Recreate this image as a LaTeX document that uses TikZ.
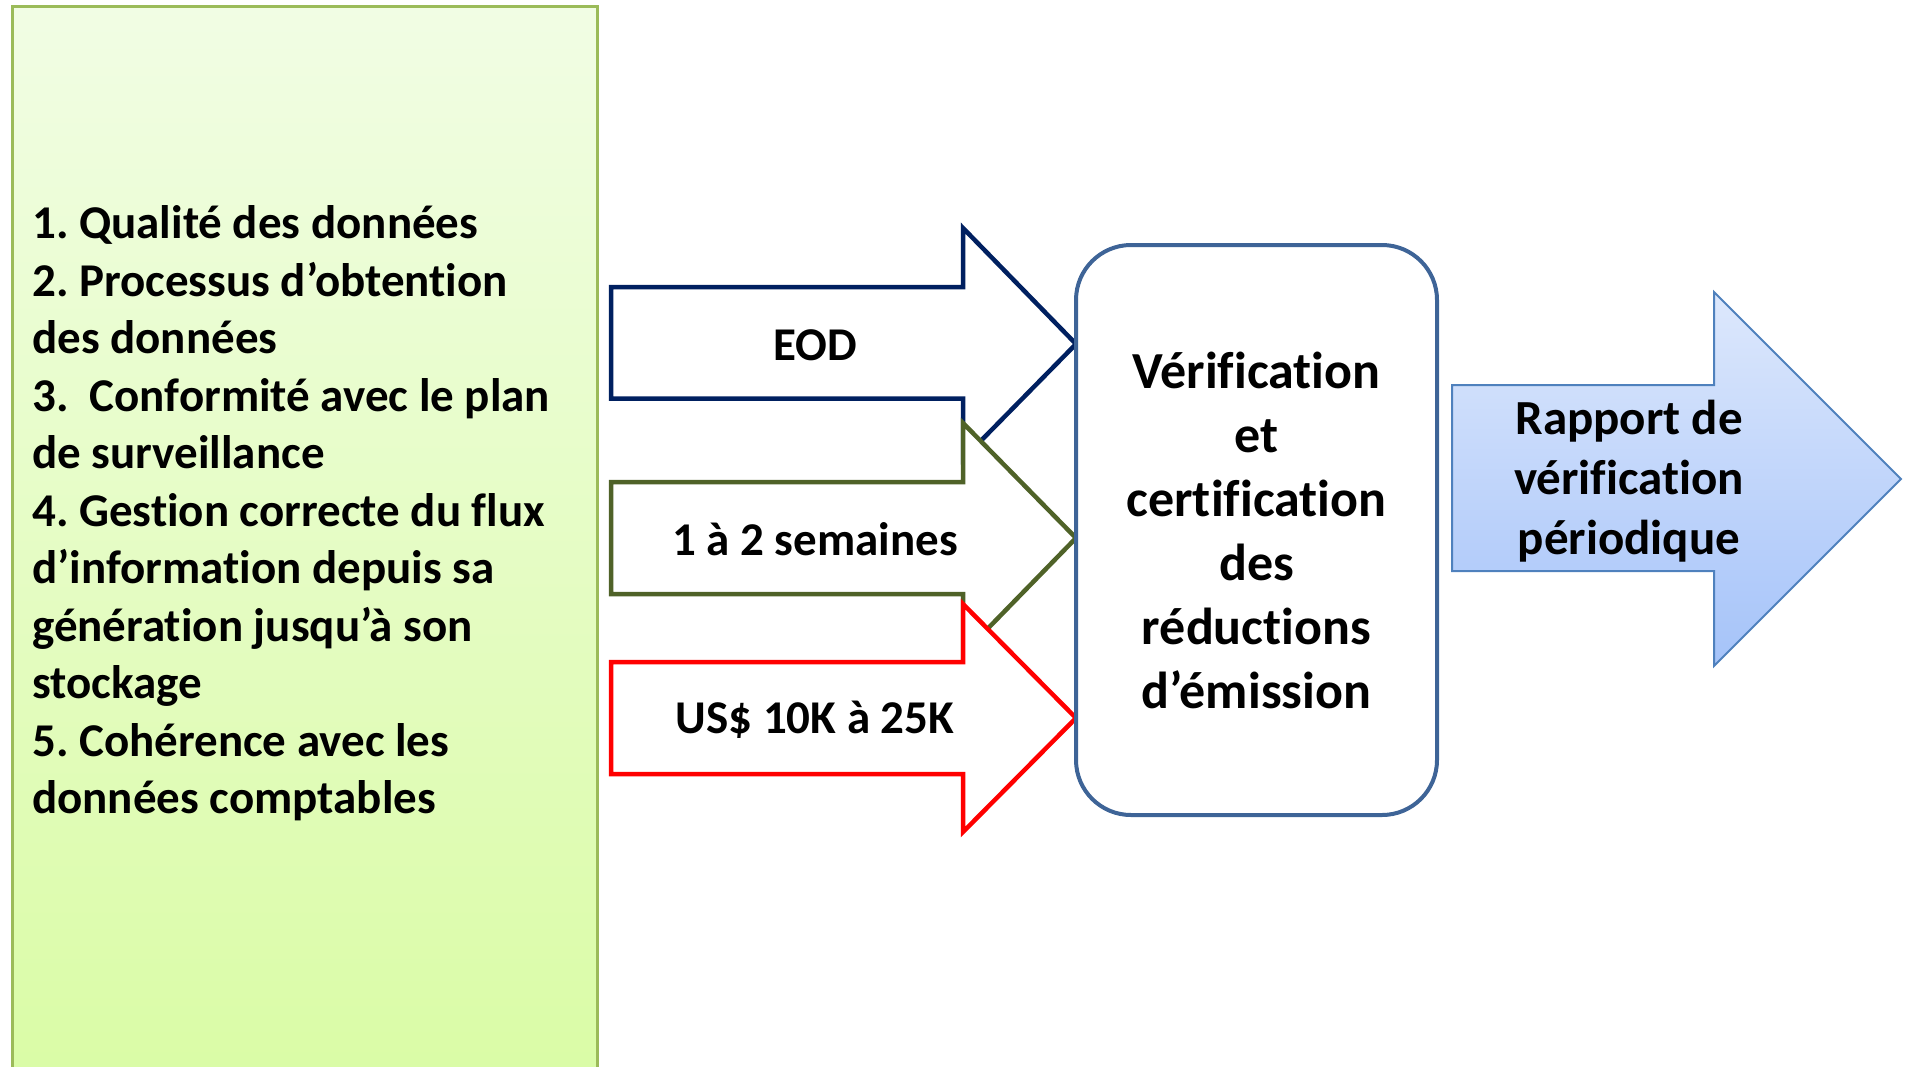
\documentclass[tikz,border=0pt]{standalone}
\usepackage{fontspec}
\setmainfont{Carlito}[RawFeature=-liga]
\definecolor{navy}{HTML}{002060}
\definecolor{olive}{HTML}{4F6228}
\definecolor{boxblue}{HTML}{3E6497}
\definecolor{arrowblue}{HTML}{4F81BD}
\definecolor{greentop}{HTML}{F1FDE4}
\definecolor{greenbot}{HTML}{DAFCA6}
\definecolor{greenedge}{HTML}{9BBB59}
\definecolor{bluetop}{HTML}{DDE8FC}
\definecolor{bluebot}{HTML}{A5C3F9}
\frenchspacing
\begin{document}
\begin{tikzpicture}[x=1pt,y=-1pt,
  blockarrow/.style={fill=white, line width=4.5, line join=miter},
  lbl/.style={font=\bfseries\fontsize{47}{57}\selectfont, inner sep=0pt},
  listtext/.style={font=\bfseries\fontsize{47}{57.5}\selectfont, align=left, inner sep=0pt, anchor=west},
  vcbox/.style={draw=boxblue, line width=4, rounded corners=55, fill=white,
    minimum width=361, minimum height=570, align=center,
    font=\bfseries\fontsize{52}{64}\selectfont},
  raptext/.style={font=\bfseries\fontsize{49}{60}\selectfont, align=center, inner sep=0pt}]
\useasboundingbox (0,0) rectangle (1905,1066);
% left green panel
\path[draw=greenedge, line width=3, top color=greentop, bottom color=greenbot]
  (12,6) rectangle (597,1075);
\node[listtext] (list) at (32,513.5) {1. Qualité des données\\
2. Processus d’obtention\\
des données\\
3.~ Conformité avec le plan\\
de surveillance\\
4. Gestion correcte du flux\\
d’information depuis sa\\
génération jusqu’à son\\
stockage\\
5. Cohérence avec les\\
données comptables};
% three input arrows
\path[blockarrow, draw=navy] (611,287) -- (963,287) -- (963,228) -- (1076,344)
  -- (963,459) -- (963,398.5) -- (611,398.5) -- cycle;
\path[blockarrow, draw=olive] (611,482) -- (963,482) -- (963,423) -- (1076,538)
  -- (963,654) -- (963,594) -- (611,594) -- cycle;
\path[blockarrow, draw=red] (611,662) -- (963,662) -- (963,604) -- (1076,718)
  -- (963,832) -- (963,774) -- (611,774) -- cycle;
\node[lbl] (eod) at (815,345) {EOD};
\node[lbl] (sem) at (815,539) {1 à 2 semaines};
\node[lbl] (usd) at (815,720) {US\$ 10K à 25K};
% central box
\node[vcbox] (vc) at (1256.5,530) {Vérification\\et\\certification\\des\\réductions\\d’émission};
% output arrow
\path[draw=arrowblue, line width=2, top color=bluetop, bottom color=bluebot, line join=miter]
  (1452,385) -- (1714,385) -- (1714,292) -- (1901,479) -- (1714,666) -- (1714,571)
  -- (1452,571) -- cycle;
\node[raptext] (rap) at (1629,481) {Rapport de\\vérification\\périodique};
\end{tikzpicture}
\end{document}
